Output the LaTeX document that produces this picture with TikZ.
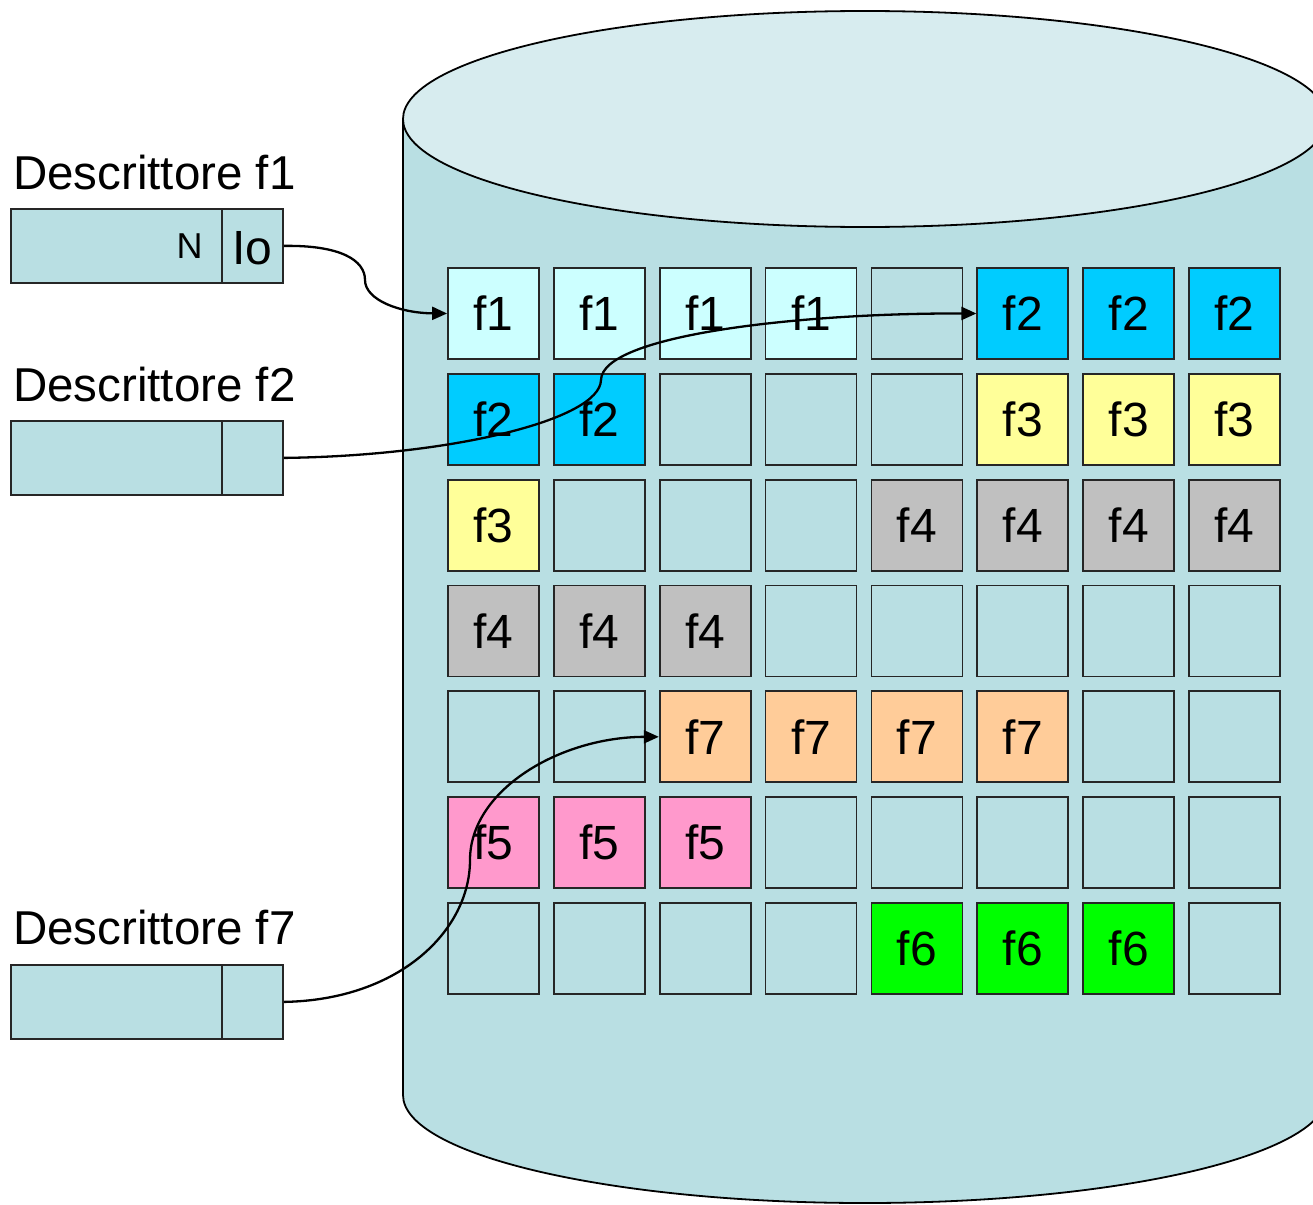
\documentclass[tikz,border=0pt]{standalone}
\usepackage{fontspec}
\setmainfont{Liberation Sans}
\usetikzlibrary{arrows.meta}
\definecolor{body}{HTML}{B9DFE3}
\definecolor{topc}{HTML}{D7ECEF}
\definecolor{cf1}{HTML}{CCFFFF}
\definecolor{cf2}{HTML}{00CCFF}
\definecolor{cf3}{HTML}{FFFF99}
\definecolor{cf4}{HTML}{C0C0C0}
\definecolor{cf5}{HTML}{FF99CC}
\definecolor{cf6}{HTML}{00FF00}
\definecolor{cf7}{HTML}{FFCC99}
\tikzset{
  cell/.style={draw=black!85, line width=1.8pt, minimum size=91pt, inner sep=0pt, fill=body,
    font=\fontsize{48}{50}\selectfont},
  desc/.style={draw=black!85, line width=1.8pt, fill=body, inner sep=0pt, anchor=north west},
  lab/.style={anchor=base west, inner sep=0pt, font=\fontsize{47.5}{50}\selectfont},
  conn/.style={line width=2.3pt, -{Triangle[length=15pt,width=13pt]}},
}
\begin{document}
\begin{tikzpicture}[x=1pt,y=-1pt]
\useasboundingbox (0,0) rectangle (1313,1204);
\clip (0,0) rectangle (1313,1204);
% cylinder
\fill[body] (403,119) rectangle (1327,1095);
\fill[body] (865,1095) ellipse [x radius=462, y radius=108];
\draw[line width=1.8pt] (403,119) -- (403,1095);
\draw[line width=1.8pt] (1327,119) -- (1327,1095);
\begin{scope}
\clip (300,1095) rectangle (1400,1300);
\draw[line width=1.8pt] (865,1095) ellipse [x radius=462, y radius=108];
\end{scope}
\filldraw[fill=topc, line width=1.8pt] (865,119) ellipse [x radius=462, y radius=108];
% cells
\foreach \r/\row in {0/{1,1,1,1,0,2,2,2},1/{2,2,0,0,0,3,3,3},2/{3,0,0,0,4,4,4,4},3/{4,4,4,0,0,0,0,0},4/{0,0,7,7,7,7,0,0},5/{5,5,5,0,0,0,0,0},6/{0,0,0,0,6,6,6,0}}{
  \foreach \v [count=\c from 0] in \row {
    \pgfmathsetmacro{\cx}{493.5+105.86*\c}
    \pgfmathsetmacro{\cy}{313.5+105.83*\r}
    \ifnum\v=0
      \node[cell] (c-\r-\c) at (\cx,\cy) {};
    \else
      \node[cell, fill=cf\v] (c-\r-\c) at (\cx,\cy) {f\v};
    \fi
  }
}
% descriptors
\node[lab] (l1) at (13,189) {Descrittore f1};
\node[lab] (l2) at (13,401) {Descrittore f2};
\node[lab] (l7) at (13,944) {Descrittore f7};
\node[desc, minimum width=211pt, minimum height=74pt] (d1) at (10,208) {};
\node[desc, minimum width=61pt, minimum height=74pt] (p1) at (221,208) {};
\node[desc, minimum width=211pt, minimum height=74pt] (d2) at (10,420) {};
\node[desc, minimum width=61pt, minimum height=74pt] (p2) at (221,420) {};
\node[desc, minimum width=211pt, minimum height=74pt] (d7) at (10,964) {};
\node[desc, minimum width=61pt, minimum height=74pt] (p7) at (221,964) {};
\node[anchor=east, inner sep=0pt, font=\fontsize{36}{38}\selectfont] (n1) at ([xshift=-20pt]d1.east) {N};
\node[inner sep=0pt, font=\fontsize{48}{50}\selectfont] (io) at ([yshift=-2pt]p1.center) {Io};
% connectors
\coordinate (m1) at (365,280);
\coordinate (m2) at (601,380);
\coordinate (m7) at (470,860);
\draw[conn] (p1.east) .. controls (340,245) and (365,260) .. (m1)
  .. controls (365,300) and (400,313) .. (c-0-0.west);
\draw[conn] (p2.east) .. controls (450,456) and (600,420) .. (m2)
  .. controls (602,335) and (800,313) .. (c-0-5.west);
\draw[conn] (p7.east) .. controls (400,1000) and (470,930) .. (m7)
  .. controls (470,790) and (560,737) .. (c-4-2.west);
\end{tikzpicture}
\end{document}
